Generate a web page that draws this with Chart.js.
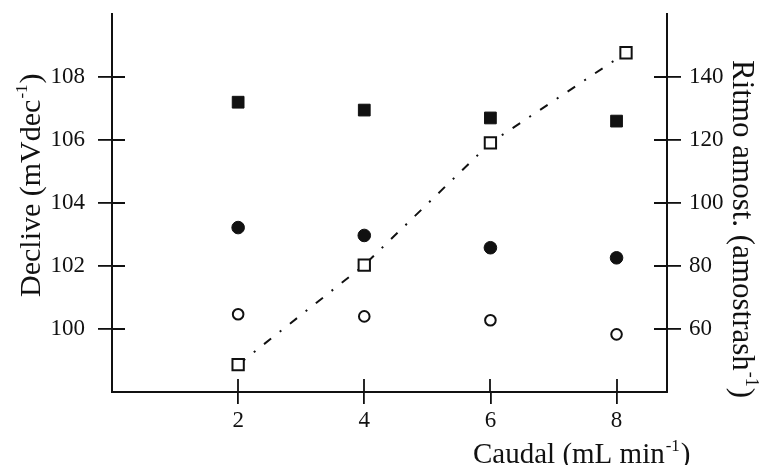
<!DOCTYPE html>
<html><head><meta charset="utf-8">
<script src="https://cdn.jsdelivr.net/npm/chart.js@4/dist/chart.umd.min.js"></script>
<style>html,body{margin:0;padding:0;background:#fff}#wrap{width:761px;height:465px}</style>
</head><body><div id="wrap"><canvas id="c" width="761" height="465"></canvas></div>
<script>
// ---- data ----
const caudal = [2, 4, 6, 8];
const decliveSquares = [107.2, 106.95, 106.7, 106.6];   // filled squares (left axis)
const decliveDots    = [103.22, 102.97, 102.58, 102.26]; // filled circles (left axis)
const decliveRings   = [100.47, 100.40, 100.28, 99.83];  // open circles (left axis)
const ritmoCaudal    = [2, 4, 6, 8.15];
const ritmo          = [48.7, 80.3, 119.1, 147.7];       // open squares (right axis)
const xTicks     = [2, 4, 6, 8];
const leftTicks  = [100, 102, 104, 106, 108];
const rightTicks = [60, 80, 100, 120, 140];
// axis titles: [main text, superscript, closing text]
const xTitle     = ['Caudal (mL min', '-1', ')'];
const leftTitle  = ['Declive (mVdec', '-1', ')'];
const rightTitle = ['Ritmo amost. (amostrash', '-1', ')'];

const FONT = "'Liberation Serif', 'Times New Roman', serif";
const INK = '#111';

const pts = (xs, ys) => xs.map((x, i) => ({x: x, y: ys[i]}));

const innerTicks = {
  id: 'innerTicks',
  afterDraw(chart) {
    const ctx = chart.ctx, a = chart.chartArea;
    ctx.save();
    ctx.strokeStyle = INK; ctx.lineWidth = 1.8;
    const sx = chart.scales.x, sy = chart.scales.y, sr = chart.scales.y1;
    ctx.beginPath();
    xTicks.forEach(v => { const p = Math.round(sx.getPixelForValue(v)); ctx.moveTo(p, a.bottom); ctx.lineTo(p, a.bottom - 13); });
    leftTicks.forEach(v => { const p = Math.round(sy.getPixelForValue(v)); ctx.moveTo(a.left, p); ctx.lineTo(a.left + 13, p); });
    rightTicks.forEach(v => { const p = Math.round(sr.getPixelForValue(v)); ctx.moveTo(a.right, p); ctx.lineTo(a.right - 13, p); });
    ctx.stroke();
    ctx.restore();
  }
};

// axis titles with a true superscript
function drawSupTitle(ctx, parts, size, x, y, rot) {
  ctx.save();
  ctx.translate(x, y);
  ctx.rotate(rot);
  ctx.fillStyle = INK;
  ctx.textAlign = 'left';
  ctx.textBaseline = 'alphabetic';
  ctx.font = size + 'px ' + FONT;
  ctx.fillText(parts[0], 0, 0);
  let w = ctx.measureText(parts[0]).width + 1;
  const ss = Math.round(size * 0.58);
  ctx.font = ss + 'px ' + FONT;
  ctx.fillText(parts[1], w, -size * 0.42);
  w += ctx.measureText(parts[1]).width + 1;
  ctx.font = size + 'px ' + FONT;
  ctx.fillText(parts[2], w, 0);
  ctx.restore();
}
const axisTitles = {
  id: 'axisTitles',
  afterDraw(chart) {
    const ctx = chart.ctx;
    drawSupTitle(ctx, xTitle, 29, 473, 463, 0);
    drawSupTitle(ctx, leftTitle, 30, 40, 297, -Math.PI / 2);
    drawSupTitle(ctx, rightTitle, 31, 733, 60, Math.PI / 2);
  }
};

const tickFont = {family: FONT, size: 23};

new Chart(document.getElementById('c'), {
  type: 'scatter',
  data: {
    datasets: [
      { label: 'sq', data: pts(caudal, decliveSquares), yAxisID: 'y', pointStyle: 'rect', pointRadius: 8.3,
        backgroundColor: INK, borderColor: INK, borderWidth: 1 },
      { label: 'dot', data: pts(caudal, decliveDots), yAxisID: 'y', pointStyle: 'circle', pointRadius: 6.3,
        backgroundColor: INK, borderColor: INK, borderWidth: 1 },
      { label: 'ring', data: pts(caudal, decliveRings), yAxisID: 'y', pointStyle: 'circle', pointRadius: 5.3,
        backgroundColor: '#fff', borderColor: INK, borderWidth: 2 },
      { label: 'ritmo', data: pts(ritmoCaudal, ritmo), yAxisID: 'y1', showLine: true,
        borderColor: INK, borderWidth: 2, borderDash: [9, 11, 2, 11],
        pointStyle: 'rect', pointRadius: 8, pointBackgroundColor: '#fff', pointBorderColor: INK, pointBorderWidth: 2,
        backgroundColor: '#fff' }
    ]
  },
  options: {
    responsive: false, animation: false, devicePixelRatio: 1,
    layout: {padding: {left: 0, right: 0, top: 14, bottom: 0}},
    plugins: {legend: {display: false}, tooltip: {enabled: false}},
    scales: {
      x: {
        type: 'linear', position: 'bottom', min: 0, max: 8.8,
        afterBuildTicks: s => { s.ticks = xTicks.map(v => ({value: v})); },
        afterFit: s => { s.height = 73; s.paddingLeft = 0; s.paddingRight = 0; },
        ticks: {font: tickFont, color: INK, padding: 3, maxRotation: 0},
        grid: {drawOnChartArea: false, drawTicks: true, tickLength: 12, color: INK, lineWidth: 1.8},
        border: {display: true, color: INK, width: 2},
        title: {display: false}
      },
      y: {
        type: 'linear', position: 'left', min: 98, max: 110,
        afterBuildTicks: s => { s.ticks = leftTicks.map(v => ({value: v})); },
        afterFit: s => { s.width = 112; s.paddingTop = 0; s.paddingBottom = 0; },
        ticks: {font: tickFont, color: INK, padding: 13},
        grid: {drawOnChartArea: false, drawTicks: true, tickLength: 14, color: INK, lineWidth: 1.8},
        border: {display: true, color: INK, width: 2},
        title: {display: false}
      },
      y1: {
        type: 'linear', position: 'right', min: 40, max: 160,
        afterBuildTicks: s => { s.ticks = rightTicks.map(v => ({value: v})); },
        afterFit: s => { s.width = 94; s.paddingTop = 0; s.paddingBottom = 0; },
        ticks: {font: tickFont, color: INK, padding: 8},
        grid: {drawOnChartArea: false, drawTicks: true, tickLength: 14, color: INK, lineWidth: 1.8},
        border: {display: true, color: INK, width: 2},
        title: {display: false}
      }
    }
  },
  plugins: [innerTicks, axisTitles]
});
</script></body></html>
